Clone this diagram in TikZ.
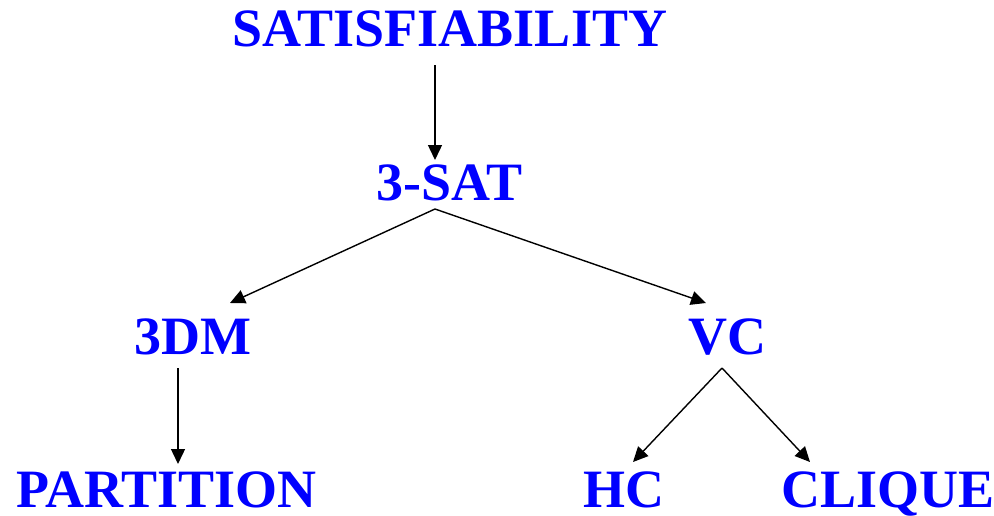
\documentclass[tikz,border=0pt]{standalone}
\usepackage{fontspec}
\setmainfont{Liberation Serif}
\usetikzlibrary{arrows.meta,calc}
\tikzset{
  prob/.style={text=blue, font=\fontsize{54}{54}\selectfont\bfseries, inner sep=0pt, anchor=base, text depth=0pt},
  red/.style={draw=black, line width=1.4pt, -{Triangle[length=15pt,width=14pt]}}
}
\begin{document}
\begin{tikzpicture}[x=1pt,y=-1pt]
\useasboundingbox (0,0) rectangle (994,515);
\node[prob] (sat)   at (450,46)   {SATISFIABILITY};
\node[prob] (tsat)  at (450,200)  {3-SAT};
\node[prob] (tdm)   at (193,354)  {3DM};
\node[prob] (vc)    at (727.5,354){VC};
\node[prob] (part)  at (166.5,507){PARTITION};
\node[prob] (hc)    at (624,507)  {HC};
\node[prob] (cliq)  at (888,507)  {CLIQUE};
% reductions
\draw[red] ($(sat.base)+(-15,19)$) -- ($(tsat.base)+(-15,-40)$);
\draw[red] ($(tsat.base)+(-15,9)$) -- ($(tdm.base)+(37,-51)$);
\draw[red] ($(tsat.base)+(-15,9)$) -- ($(vc.base)+(-21.5,-51)$);
\draw[red] ($(tdm.base)+(-15,14)$) -- ($(part.base)+(11.5,-43)$);
\draw[red] ($(vc.base)+(-5.5,14)$) -- ($(hc.base)+(9,-45)$);
\draw[red] ($(vc.base)+(-5.5,14)$) -- ($(cliq.base)+(-78,-45)$);
\end{tikzpicture}
\end{document}
